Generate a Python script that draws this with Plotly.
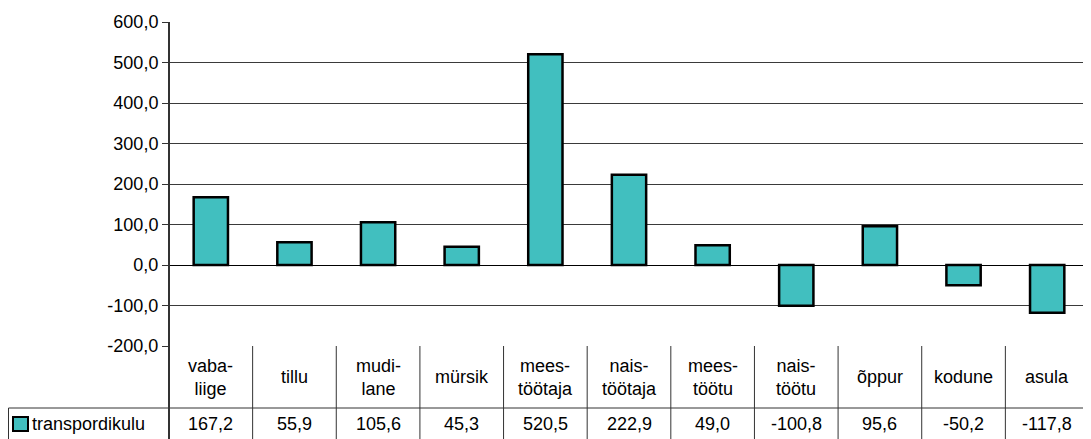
import plotly.graph_objects as go

categories = ["vaba-\nliige", "tillu", "mudi-\nlane", "mürsik", "mees-\ntöötaja",
              "nais-\ntöötaja", "mees-\ntöötu", "nais-\ntöötu", "õppur", "kodune", "asula"]
values = [167.2, 55.9, 105.6, 45.3, 520.5, 222.9, 49.0, -100.8, 95.6, -50.2, -117.8]
series_name = "transpordikulu"
y_ticks = [-200, -100, 0, 100, 200, 300, 400, 500, 600]

# page body adds an 8px offset, so the figure is sized to fill the rest
OFF = 8
W, H = 1091 - OFF, 439 - OFF
ML, MR, MT, MB = 169 - OFF, 2, 22 - OFF, 93
plot_w = W - ML - MR
plot_h = H - MT - MB
row1 = 62 / plot_h  # category row height in paper units
row2 = 31 / plot_h

fill = "#41bfbf"
line_col = "#333333"
font = dict(family="Liberation Sans, Arial, sans-serif", size=18, color="black")


def fmt(v):
    return f"{v:.1f}".replace(".", ",")


fig = go.Figure()
fig.add_trace(go.Bar(
    x=list(range(len(values))), y=values, width=0.41,
    marker=dict(color=fill, line=dict(color="black", width=2.5)),
    name=series_name, showlegend=False,
))

shapes = []
annotations = []
n = len(categories)
left_cell = -(ML - 0.5) / plot_w
bottom = -row1 - row2 - 0.02
# vertical table lines
for i in range(n + 1):
    shapes.append(dict(type="line", xref="x", yref="paper", x0=i - 0.5, x1=i - 0.5,
                       y0=bottom, y1=0, line=dict(color=line_col, width=1)))
# horizontal table lines
shapes.append(dict(type="line", xref="paper", yref="paper", x0=left_cell, x1=1,
                   y0=-row1, y1=-row1, line=dict(color=line_col, width=1)))
shapes.append(dict(type="line", xref="paper", yref="paper", x0=left_cell, x1=left_cell,
                   y0=-row1, y1=bottom, line=dict(color=line_col, width=1)))
shapes.append(dict(type="line", xref="paper", yref="paper", x0=0, x1=0,
                   y0=bottom, y1=1, line=dict(color=line_col, width=2)))
# legend key
kx0 = -(ML - 5) / plot_w
kx1 = -(ML - 20) / plot_w
shapes.append(dict(type="rect", xref="paper", yref="paper", x0=kx0, x1=kx1,
                   y0=-row1 - 23 / plot_h, y1=-row1 - 9 / plot_h,
                   fillcolor=fill, line=dict(color="black", width=2)))
annotations.append(dict(xref="paper", yref="paper", x=-(ML - 22) / plot_w,
                        y=-row1 - row2 / 2, text=series_name, showarrow=False,
                        xanchor="left", yanchor="middle", font=font))

for i, (c, v) in enumerate(zip(categories, values)):
    annotations.append(dict(xref="x", yref="paper", x=i, y=-row1 / 2, text=c.replace("\n", "<br>"),
                            showarrow=False, xanchor="center", yanchor="middle", font=font))
    annotations.append(dict(xref="x", yref="paper", x=i, y=-row1 - row2 / 2,
                            text=fmt(v), showarrow=False,
                            xanchor="center", yanchor="middle", font=font))

fig.update_layout(
    width=W, height=H,
    margin=dict(l=ML, r=MR, t=MT, b=MB),
    plot_bgcolor="white", paper_bgcolor="white",
    font=font,
    shapes=shapes, annotations=annotations,
    xaxis=dict(range=[-0.5, n - 0.5], showticklabels=False, showgrid=False,
               zeroline=False, showline=False, ticks=""),
    yaxis=dict(range=[-200, 600], tickvals=y_ticks, ticktext=[fmt(t) for t in y_ticks],
               showgrid=True, gridcolor="#3a3a3a", gridwidth=1,
               zeroline=True, zerolinecolor="black", zerolinewidth=1,
               showline=False, ticks="outside", ticklen=6, tickcolor="#333333",
               tickfont=font),
)

fig.write_html("out.html")
